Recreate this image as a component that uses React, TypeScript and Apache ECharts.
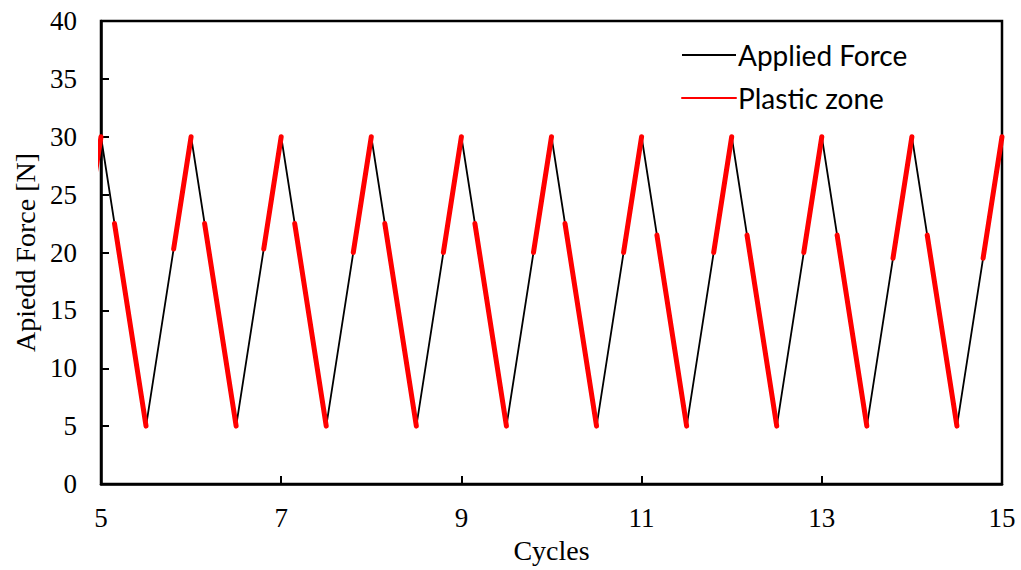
import React, { useEffect, useRef } from "react";
import * as echarts from "echarts";

// Applied force: triangular loading, peaks at whole cycles, valleys at half cycles
const forceX = [5, 5.5, 6, 6.5, 7, 7.5, 8, 8.5, 9, 9.5, 10, 10.5, 11, 11.5, 12, 12.5, 13, 13.5, 14, 14.5, 15];
const forceY = [30, 5, 30, 5, 30, 5, 30, 5, 30, 5, 30, 5, 30, 5, 30, 5, 30, 5, 30, 5, 30];

// Plastic zone segments (null = gap between segments)
const plasticX = [
  4.8, 5, null,
  5.15, 5.5, null, 5.806, 6, null,
  6.15, 6.5, null, 6.806, 7, null,
  7.15, 7.5, null, 7.8, 8, null,
  8.15, 8.5, null, 8.8, 9, null,
  9.15, 9.5, null, 9.8, 10, null,
  10.15, 10.5, null, 10.8, 11, null,
  11.17, 11.5, null, 11.8, 12, null,
  12.17, 12.5, null, 12.8, 13, null,
  13.17, 13.5, null, 13.79, 14, null,
  14.17, 14.5, null, 14.79, 15,
];
const plasticY = [
  20, 30, null,
  22.5, 5, null, 20.3, 30, null,
  22.5, 5, null, 20.3, 30, null,
  22.5, 5, null, 20, 30, null,
  22.5, 5, null, 20, 30, null,
  22.5, 5, null, 20, 30, null,
  22.5, 5, null, 20, 30, null,
  21.5, 5, null, 20, 30, null,
  21.5, 5, null, 20, 30, null,
  21.5, 5, null, 19.5, 30, null,
  21.5, 5, null, 19.5, 30,
];

const xTicks = [5, 7, 9, 11, 13, 15];
const yMin = 0;
const yMax = 40;
const yStep = 5;

export default function App() {
  const ref = useRef<HTMLDivElement>(null);
  useEffect(() => {
    if (!ref.current) return;
    const chart = echarts.init(ref.current, undefined, { renderer: "svg" });
    const serif = "'Liberation Serif', 'DejaVu Serif', serif";
    const tickRich = { t: { fontFamily: serif, fontSize: 27, color: "#000" } };
    const forceData = forceX.map((x, i) => [x, forceY[i]]);
    const plasticData = plasticX.map((x, i) =>
      x === null || plasticY[i] === null ? "-" : [x, plasticY[i]]
    );
    chart.setOption({
      animation: false,
      backgroundColor: "#fff",
      textStyle: { fontFamily: serif },
      grid: {
        left: 101,
        right: 19,
        top: 21,
        bottom: 86,
        show: true,
        borderColor: "#000",
        borderWidth: 2.5,
        backgroundColor: "transparent",
      },
      legend: {
        orient: "vertical",
        left: 676,
        top: 36,
        itemWidth: 54,
        itemHeight: 14,
        itemGap: 15,
        itemStyle: { opacity: 0 },
        textStyle: { fontFamily: "Lato", fontSize: 28, color: "#000", padding: [0, 0, 0, -3] },
        data: ["Applied Force", "Plastic zone"],
      },
      xAxis: {
        type: "value",
        min: 5,
        max: 15,
        name: "Cycles",
        nameLocation: "middle",
        nameGap: 52,
        nameTextStyle: { fontFamily: serif, fontSize: 28, color: "#000" },
        axisLine: { show: true, lineStyle: { color: "#000", width: 2.5 } },
        axisTick: { show: true, inside: true, length: 8, customValues: xTicks, lineStyle: { color: "#000", width: 2 } },
        axisLabel: {
          customValues: xTicks,
          margin: 20,
          fontFamily: serif,
          fontSize: 27,
          color: "#000",
          formatter: "{t|{value}}",
          rich: tickRich,
        },
        splitLine: { show: false },
      },
      yAxis: {
        type: "value",
        min: yMin,
        max: yMax,
        interval: yStep,
        name: "Apiedd Force [N]",
        nameLocation: "middle",
        nameGap: 61,
        nameTextStyle: { fontFamily: serif, fontSize: 28, color: "#000" },
        axisLine: { show: true, lineStyle: { color: "#000", width: 2.5 } },
        axisTick: { show: true, inside: true, length: 8, lineStyle: { color: "#000", width: 2 } },
        axisLabel: {
          margin: 24,
          fontFamily: serif,
          fontSize: 27,
          color: "#000",
          formatter: "{t|{value}}",
          rich: tickRich,
        },
        splitLine: { show: false },
      },
      series: [
        {
          name: "Applied Force",
          type: "line",
          data: forceData,
          symbol: "none",
          lineStyle: { color: "#000", width: 1.8 },
          itemStyle: { color: "#000" },
          clip: true,
        },
        {
          name: "Plastic zone",
          type: "line",
          data: plasticData,
          symbol: "none",
          connectNulls: false,
          lineStyle: { color: "#ff0000", width: 5, cap: "round" },
          itemStyle: { color: "#ff0000" },
          clip: true,
        },
      ],
    });
    return () => chart.dispose();
  }, []);
  return (
    <div
      ref={ref}
      style={{ position: "absolute", left: 0, top: 0, width: 1021, height: 570 }}
    />
  );
}
